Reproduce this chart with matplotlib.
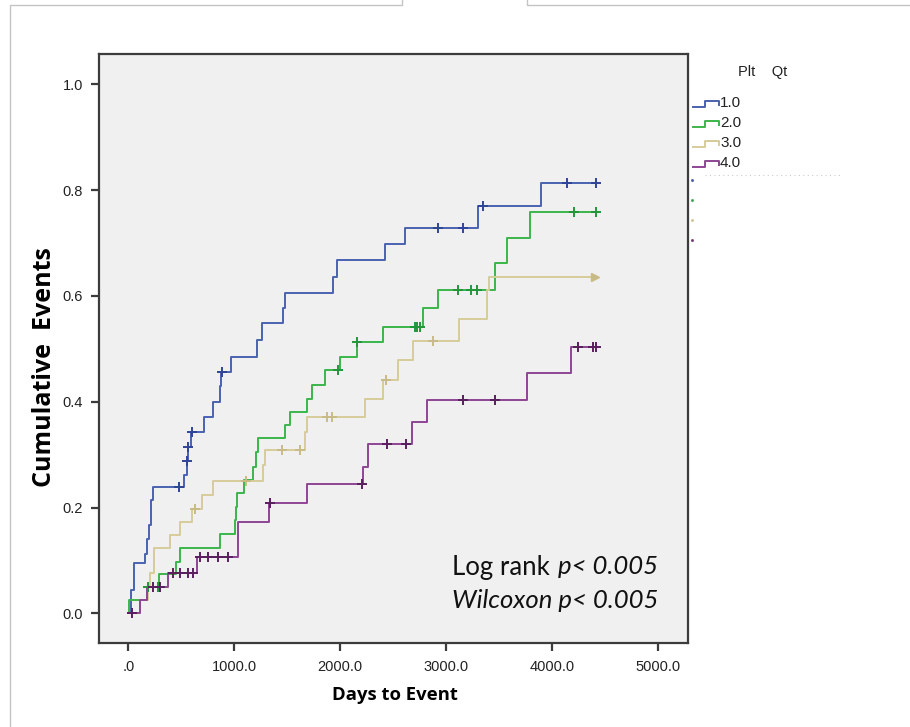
import numpy as np
import matplotlib
matplotlib.use("Agg")
import matplotlib.pyplot as plt
from matplotlib.lines import Line2D

# step data: event times and cumulative events after each step
t1 = [0, 25, 50, 158, 173, 195, 211, 236, 525, 550, 562, 590, 716, 802, 866, 870, 966,
      1217, 1258, 1456, 1481, 1934, 1966, 2421, 2610, 3299, 3895]
y1 = [0, 0.045, 0.095, 0.113, 0.14, 0.167, 0.214, 0.238, 0.262, 0.288, 0.315, 0.342, 0.372,
      0.40, 0.43, 0.457, 0.485, 0.517, 0.548, 0.577, 0.606, 0.636, 0.668, 0.698, 0.728, 0.770, 0.814]
c1 = [478, 556, 566, 601, 885, 2925, 3160, 3345, 4140, 4412]

t2 = [0, 5, 173, 292, 450, 488, 865, 1007, 1015, 1022, 1092, 1180, 1205, 1227, 1478, 1525,
      1683, 1730, 1856, 2000, 2155, 2400, 2777, 2925, 3459, 3570, 3790]
y2 = [0, 0.025, 0.049, 0.074, 0.098, 0.123, 0.150, 0.176, 0.2015, 0.227, 0.252, 0.277, 0.305,
      0.331, 0.356, 0.381, 0.406, 0.432, 0.46, 0.485, 0.513, 0.542, 0.577, 0.611, 0.662, 0.709, 0.758]
c2 = [187, 278, 1981, 2160, 2700, 2725, 2750, 3113, 3230, 3287, 4200, 4412]

t3 = [0, 110, 189, 205, 245, 393, 488, 598, 692, 802, 1274, 1285, 1667, 1690, 2233, 2400,
      2547, 2689, 3120, 3387, 3400]
y3 = [0, 0.025, 0.050, 0.076, 0.123, 0.148, 0.173, 0.198, 0.224, 0.251, 0.280, 0.309, 0.343,
      0.372, 0.406, 0.441, 0.479, 0.515, 0.556, 0.611, 0.635]
c3 = [630, 1110, 1447, 1620, 1872, 1918, 2431, 2877]

t4 = [0, 110, 173, 377, 651, 1032, 1330, 1683, 2217, 2264, 2679, 2815, 3764, 4173]
y4 = [0, 0.025, 0.049, 0.076, 0.106, 0.173, 0.208, 0.244, 0.277, 0.32, 0.362, 0.403, 0.454, 0.504]
c4 = [38, 230, 300, 425, 488, 566, 613, 676, 755, 849, 943, 1340, 2202, 2443, 2620, 3155,
      3459, 4245, 4387, 4412]

t_end = [4412, 4412, 4403, 4412]
groups = ["1.0", "2.0", "3.0", "4.0"]
colors = ["#4a62b0", "#3cb54a", "#d6cc9a", "#8e4592"]
mark_colors = ["#2f4595", "#23963a", "#c8bb85", "#5a1f5e"]

xticks = [0, 1000, 2000, 3000, 4000, 5000]
xticklabels = [".0", "1000.0", "2000.0", "3000.0", "4000.0", "5000.0"]
yticks = [0, 0.2, 0.4, 0.6, 0.8, 1.0]

fig = plt.figure(figsize=(9.1, 7.27), dpi=100)
ax = fig.add_axes([98.5 / 910, 1 - 643 / 727, (688 - 98.5) / 910, (643 - 54) / 727])
ax.set_facecolor("#f0f0f0")

series = [(t1, y1, c1), (t2, y2, c2), (t3, y3, c3), (t4, y4, c4)]
for i, (t, y, c) in enumerate(series):
    tt = np.array(t + [t_end[i]], dtype=float)
    yy = np.array(y + [y[-1]], dtype=float)
    ax.step(tt, yy, where="post", color=colors[i], lw=1.4, zorder=3 + i)
    idx = np.searchsorted(tt, c, side="right") - 1
    ax.plot(c, yy[idx], ls="none", marker="+", ms=7, mew=1.4,
            color=mark_colors[i], zorder=7 + i)
# end marker on group 3
ax.plot([t_end[2]], [y3[-1]], ls="none", marker=">", ms=5.5, color=mark_colors[2], zorder=10)

ax.set_xlim(-281, 5280)
ax.set_ylim(-0.056, 1.057)
ax.set_xticks(xticks)
ax.set_xticklabels(xticklabels)
ax.set_yticks(yticks)
ax.set_yticklabels(["%.1f" % v for v in yticks])
for s in ax.spines.values():
    s.set_color("#3c3c3c")
    s.set_linewidth(1.6)
ax.tick_params(direction="out", length=6, width=1.6, color="#3c3c3c",
               labelsize=10.5, labelcolor="#222222")
ax.tick_params(axis="x", pad=6)
ax.tick_params(axis="y", pad=5)
for lab in ax.get_xticklabels() + ax.get_yticklabels():
    lab.set_family("Liberation Sans")

fig.text(45 / 910, 1 - 367 / 727, "Cumulative  Events", fontsize=18, fontweight="bold",
         family="Open Sans", rotation=90, va="center", ha="center")
fig.text(395 / 910, 1 - 695 / 727, "Days to Event", fontsize=13.3, fontweight="bold",
         family="Open Sans", va="center", ha="center")

# statistics text
fig.text(452 / 910, 1 - 567 / 727, "Log rank", fontsize=18.5, family="Lato",
         va="center", ha="left", color="#111111")
fig.text(558 / 910, 1 - 567 / 727, "p< 0.005", fontsize=18.5, family="Lato",
         style="italic", va="center", ha="left", color="#111111")
fig.text(452 / 910, 1 - 601 / 727, "Wilcoxon p< 0.005", fontsize=18.5, family="Lato",
         style="italic", va="center", ha="left", color="#111111")

# legend drawn by hand, like the SPSS output
fig.text(738 / 910, 1 - 72 / 727, "Plt    Qt", fontsize=10.5, family="Liberation Sans",
         va="center", ha="left", color="#222222")
for i, g in enumerate(groups):
    yc = 103 + 20 * i
    xs = np.array([693, 705, 705, 719, 719]) / 910
    ys = 1 - np.array([yc + 4, yc + 4, yc - 2, yc - 2, yc + 2]) / 727
    fig.add_artist(Line2D(xs, ys, color=colors[i], lw=1.4))
    fig.text(720 / 910, 1 - yc / 727, g, fontsize=11, family="Liberation Sans",
             va="center", ha="left", color="#222222")
for i in range(4):
    fig.add_artist(Line2D([692 / 910], [1 - (180 + 20 * i) / 727], ls="none",
                          marker=".", ms=2.5, color=mark_colors[i], alpha=0.7))
fig.add_artist(Line2D([705 / 910, 840 / 910], [1 - 175 / 727] * 2, color="#cccccc",
                      lw=0.8, ls=(0, (1, 3))))

# page borders
bc = "#c4c4c4"
fig.add_artist(Line2D(np.array([10, 10, 402, 402]) / 910,
                      1 - np.array([727, 5, 5, 0]) / 727, color=bc, lw=1))
fig.add_artist(Line2D(np.array([527, 527, 910]) / 910,
                      1 - np.array([0, 5, 5]) / 727, color=bc, lw=1))

fig.savefig("out.png", dpi=100, facecolor="white")
